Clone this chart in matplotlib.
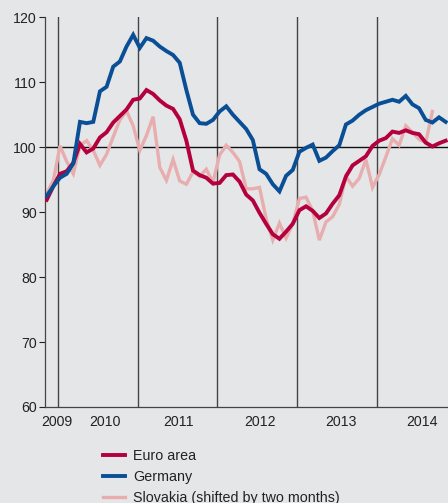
import matplotlib
matplotlib.use("Agg")
import matplotlib.pyplot as plt
import numpy as np

plt.rcParams['font.family'] = ['Liberation Sans', 'DejaVu Sans']

# Monthly index, k=0 ~ Nov 2009
euro_area = [91.9, 94.0, 95.9, 96.3, 97.6, 100.5, 99.2, 99.8, 101.5, 102.3,
             103.8, 104.8, 105.8, 107.3, 107.5, 108.8, 108.2, 107.2, 106.4, 105.9,
             104.3, 101.0, 96.4, 95.7, 95.3, 94.4, 94.5, 95.7, 95.8, 94.7,
             92.7, 91.8, 89.9, 88.2, 86.6, 85.9, 87.0, 88.2, 90.3, 90.9,
             90.2, 89.1, 89.8, 91.3, 92.6, 95.5, 97.2, 97.9, 98.6, 100.2,
             101.0, 101.4, 102.4, 102.2, 102.6, 102.2, 102.0, 100.7, 100.1, 100.6,
             101.0]
germany = [92.5, 94.0, 95.3, 95.9, 97.5, 103.9, 103.7, 103.9, 108.6, 109.3,
           112.4, 113.2, 115.5, 117.3, 115.3, 116.8, 116.4, 115.5, 114.8, 114.2,
           113.0, 108.8, 105.0, 103.7, 103.6, 104.2, 105.5, 106.3, 105.0, 103.9,
           102.8, 101.1, 96.6, 95.9, 94.3, 93.2, 95.6, 96.5, 99.3, 99.9,
           100.4, 97.9, 98.4, 99.4, 100.3, 103.5, 104.1, 105.0, 105.7, 106.2,
           106.7, 107.0, 107.3, 107.0, 107.9, 106.6, 106.0, 104.2, 103.8, 104.6,
           103.9]
slovakia = [92.9, 94.9, 100.2, 97.8, 95.9, 100.3, 101.0, 99.5, 97.2, 98.9,
            101.6, 104.2, 105.6, 103.3, 99.5, 101.8, 104.7, 96.9, 94.9, 98.1,
            94.8, 94.3, 96.2, 95.5, 96.6, 94.6, 98.8, 100.3, 99.2, 97.8,
            93.6, 93.6, 93.8, 89.0, 85.7, 88.3, 86.0, 88.2, 92.1, 92.3,
            90.2, 85.7, 88.5, 89.3, 91.2, 95.5, 94.0, 95.2, 98.1, 93.8,
            95.8, 98.5, 101.3, 100.3, 103.3, 102.3, 101.2, 100.7, 105.5]

year_labels = ['2009', '2010', '2011', '2012', '2013', '2014']
year_label_pos = [1.56, 8.8, 19.9, 32.1, 44.3, 56.5]
year_boundaries = [1.7, 13.7, 25.6, 37.6, 49.6]
y_ticks = [60, 70, 80, 90, 100, 110, 120]

bg = '#e4e6e8'
c_euro = '#b4003c'
c_ger = '#0a4f96'
c_svk = '#e8adae'

W, H = 448, 503
fig = plt.figure(figsize=(W / 100, H / 100), dpi=100, facecolor=bg)
ax = fig.add_axes([45 / W, (H - 407) / H, (448 - 45) / W, (407 - 17.3) / H])
ax.set_facecolor(bg)

for xb in year_boundaries:
    ax.axvline(xb, color='#444444', lw=1.0, zorder=1)
ax.axhline(100, color='#111111', lw=1.0, zorder=1)

x_e = np.arange(len(euro_area))
x_g = np.arange(len(germany))
x_s = np.arange(len(slovakia))
l_s, = ax.plot(x_s, slovakia, color=c_svk, lw=2.4, zorder=2, solid_joinstyle='miter')
l_e, = ax.plot(x_e, euro_area, color=c_euro, lw=2.8, zorder=3, solid_joinstyle='miter')
l_g, = ax.plot(x_g, germany, color=c_ger, lw=2.8, zorder=4, solid_joinstyle='miter')

ax.set_xlim(-0.26, 60.35)
ax.set_ylim(60, 120)
ax.set_yticks(y_ticks)
ax.set_xticks(year_label_pos)
ax.set_xticklabels(year_labels)
ax.tick_params(axis='x', length=0, pad=6, labelsize=10.2, colors='#222222')
ax.tick_params(axis='y', length=4, width=0.8, pad=2, labelsize=10.2, colors='#222222')
for s in ['top', 'right']:
    ax.spines[s].set_visible(False)
for s in ['left', 'bottom']:
    ax.spines[s].set_color('#444444')
    ax.spines[s].set_linewidth(0.9)

leg = fig.legend([l_e, l_g, l_s],
                 ['Euro area', 'Germany', 'Slovakia (shifted by two months)'],
                 loc='upper left', bbox_to_anchor=(97 / W, (H - 443) / H),
                 frameon=False, fontsize=10.3, handlelength=1.55, handletextpad=0.6,
                 labelspacing=0.5, borderaxespad=0)
for t in leg.get_texts():
    t.set_color('#222222')

fig.savefig('out.png', dpi=100, facecolor=bg)
